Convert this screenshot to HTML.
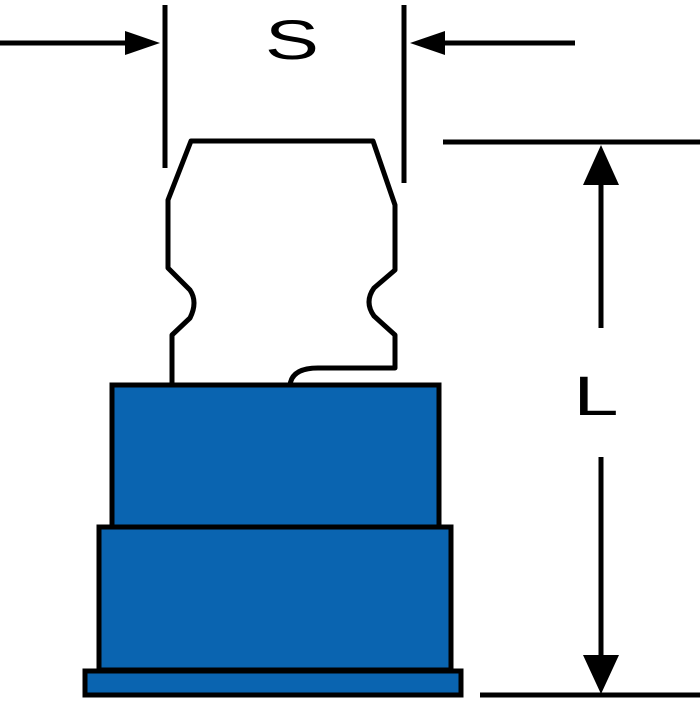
<!DOCTYPE html>
<html><head><style>html,body{margin:0;padding:0;background:#fff}</style></head>
<body>
<svg width="700" height="700" viewBox="0 0 700 700" xmlns="http://www.w3.org/2000/svg">
<g stroke="#000" fill="none" stroke-width="5">
<line x1="165" y1="5" x2="165" y2="168"/>
<line x1="404" y1="5" x2="404" y2="183"/>
<line x1="0" y1="43" x2="130" y2="43"/>
<line x1="438" y1="43" x2="575" y2="43"/>
<line x1="443" y1="142" x2="700" y2="142"/>
<line x1="601" y1="180" x2="601" y2="328"/>
<line x1="601" y1="457" x2="601" y2="660"/>
<line x1="480" y1="695" x2="700" y2="695"/>
<path d="M172,385 L172,335 L190,318 Q198,302 190,290 L168,268 L168,200 L191,141 L373,141 L395,205 L395,270 L374,288 Q364,302 374,316 L395,335 L395,368 L318,368 Q292,368 290,385" fill="#fff" stroke-linejoin="round"/>
</g>
<polygon points="160,43 125,31 125,55" fill="#000"/>
<polygon points="410,43 445,31 445,55" fill="#000"/>
<polygon points="601,145 583,185 619,185" fill="#000"/>
<polygon points="601,694 583,655 619,655" fill="#000"/>
<g stroke="#000" stroke-width="5" fill="#0a64b0">
<rect x="112" y="385" width="327" height="142"/>
<rect x="99" y="527" width="352" height="143"/>
<rect x="85" y="671" width="376" height="24"/>
</g>
<text x="0" y="0" transform="translate(292,59) scale(1.45,1)" font-family="Liberation Sans, sans-serif" font-size="56" text-anchor="middle">S</text>
<text x="0" y="0" transform="translate(596,415) scale(1.45,1)" font-family="Liberation Sans, sans-serif" font-size="56" text-anchor="middle">L</text>
</svg>
</body></html>
